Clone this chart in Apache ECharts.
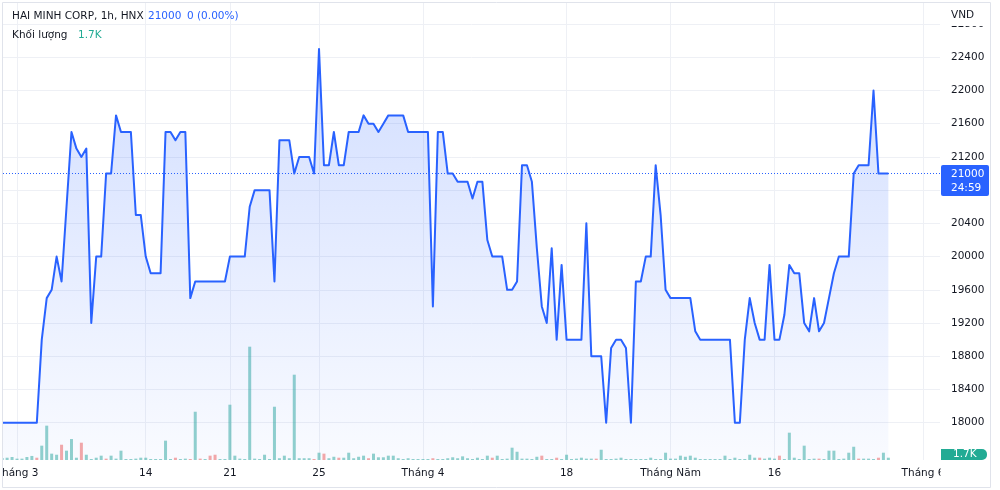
<!DOCTYPE html>
<html><head><meta charset="utf-8">
<script src="https://cdn.jsdelivr.net/npm/echarts@6/dist/echarts.min.js"></script>
<style>html,body{margin:0;padding:0;background:#fff}#c{width:1000px;height:490px}</style>
</head><body><div id="c"></div>
<script>
// ---------- DATA ----------
const symbolTitle = 'HAI MINH CORP, 1h, HNX';
const lastPriceText = '21000';
const changeText = '0 (0.00%)';
const volumeTitle = 'Khối lượng';
const lastVolumeText = '1.7K';
const countdownText = '24:59';
const currencyText = 'VND';
const lastPrice = 21000;

// bar index of the first value (bars are hourly, indexed by position on the time scale)
const firstIndex = -7;
const prices = [
  18000,18000,18000,18000,18000,18000,18000,18000,
  19000,19500,19600,20000,19700,20600,21500,21300,21200,21300,
  19200,20000,20000,21000,21000,21700,21500,21500,21500,20500,
  20500,20000,19800,19800,19800,21500,21500,21400,21500,21500,
  19500,19700,19700,19700,19700,19700,19700,19700,20000,20000,
  20000,20000,20600,20800,20800,20800,20800,19700,21400,21400,
  21400,21000,21200,21200,21200,21000,22500,21100,21100,21500,
  21100,21100,21500,21500,21500,21700,21600,21600,21500,21600,
  21700,21700,21700,21700,21500,21500,21500,21500,21500,19400,
  21500,21500,21000,21000,20900,20900,20900,20700,20900,20900,
  20200,20000,20000,20000,19600,19600,19700,21100,21100,20900,
  20100,19400,19200,20100,19000,19900,19000,19000,19000,19000,
  20400,18800,18800,18800,18000,18900,19000,19000,18900,18000,
  19700,19700,20000,20000,21100,20500,19600,19500,19500,19500,
  19500,19500,19100,19000,19000,19000,19000,19000,19000,19000,
  18000,18000,19000,19500,19200,19000,19000,19900,19000,19000,
  19300,19900,19800,19800,19200,19100,19500,19100,19200,19500,
  19800,20000,20000,20000,21000,21100,21100,21100,22000,21000,
  21000,21000
];
// volume in thousands of shares
const volumesK = [
  1.5,1.7,2.2,1.0,1.0,2.2,3.0,1.7,
  10.6,25.4,4.7,3.9,11.3,6.9,15.5,1.7,12.8,3.9,
  0.2,1.7,3.2,1.0,3.2,1.0,6.9,0.2,0.2,1.0,
  1.7,1.7,0.2,0.2,0.2,14.3,0.2,1.7,0.2,1.0,
  0.2,35.7,1.0,0.2,3.2,3.9,0.2,0.2,40.9,3.2,
  1.0,0.5,83.8,1.0,0.5,3.9,0.5,39.4,1.3,3.2,
  1.3,63.1,1.3,1.3,1.3,0.5,5.4,4.7,1.3,2.4,
  1.7,1.7,5.4,1.3,2.4,3.2,1.3,4.7,2.0,2.0,
  3.2,3.2,1.3,0.5,1.3,0.5,0.5,0.5,0.5,1.3,
  0.5,0.5,1.3,2.0,1.3,2.7,1.3,0.7,1.7,0.2,
  3.2,1.7,3.2,0.2,1.0,9.1,6.1,1.0,1.0,0.2,
  2.4,3.2,0.2,0.2,1.7,0.2,3.9,0.2,1.0,1.7,
  1.0,1.0,1.0,7.6,0.2,0.2,1.0,1.7,0.2,0.2,
  0.2,0.2,0.2,1.7,0.2,0.2,5.4,1.0,1.0,3.2,
  2.4,3.2,1.7,0.2,0.7,0.7,0.7,0.7,3.2,0.2,
  1.7,0.7,0.7,3.9,1.7,1.7,1.0,1.7,1.0,3.2,
  0.2,20.2,1.7,0.2,10.6,0.2,1.0,1.0,0.2,6.9,
  6.9,0.2,1.0,5.4,9.8,1.0,1.0,1.0,0.2,1.7,
  5.4,1.7
];
// bar indices whose volume bar is red (down)
const downBars = [0,5,9,14,28,31,33,35,36,56,58,61,67,80,92,102,105,113,146,150,158,166,170];

const priceTicks = [18000,18400,18800,19200,19600,20000,20400,20800,21200,21600,22000,22400,22800];
const timeTickIndex = [-4,22,39,57,78,107,128,149,179];
const timeTickLabels = ['Tháng 3','14','21','25','Tháng 4','18','Tháng Năm','16','Tháng 6'];

// ---------- CHART ----------
const FONT = 'DejaVu Sans';
const TXT = '#131722';
const BLUE = '#2962FF';
const TEAL = '#22AB94';

const priceData = prices.map((v, k) => [firstIndex + k, v]);
const volData = volumesK.map((v, k) => {
  const idx = firstIndex + k;
  return { value: [idx, v], itemStyle: { color: downBars.includes(idx) ? 'rgba(239,83,80,0.5)' : 'rgba(38,166,154,0.5)' } };
});

const chart = echarts.init(document.getElementById('c'), null, { renderer: 'canvas' });

const txt = (text, x, y, fill, extra) => Object.assign({
  type: 'text', z: 110,
  style: { text, x, y, fill, fontFamily: FONT, fontSize: 10.5, verticalAlign: 'middle', align: 'left' }
}, extra || {});

chart.setOption({
  animation: false,
  backgroundColor: '#ffffff',
  grid: { left: 3, top: 3, width: 937, height: 457, containLabel: false, outerBoundsMode: 'none' },
  xAxis: {
    type: 'value', min: -6.83, max: 182.43,
    axisLine: { show: false },
    axisTick: { show: false, customValues: timeTickIndex },
    splitLine: { show: true, lineStyle: { color: '#eef0f5', width: 1 } },
    axisLabel: {
      customValues: timeTickIndex,
      formatter: v => { const k = timeTickIndex.indexOf(v); return k >= 0 ? timeTickLabels[k] : ''; },
      color: TXT, fontFamily: FONT, fontSize: 10.5, margin: 8, hideOverlap: false
    }
  },
  yAxis: [
    {
      type: 'value', position: 'right', min: 17551, max: 23053,
      axisLine: { show: false },
      axisTick: { show: false, customValues: priceTicks },
      splitLine: { show: true, lineStyle: { color: '#eef0f5', width: 1 } },
      axisLabel: { customValues: priceTicks, formatter: v => String(v), color: TXT, fontFamily: FONT, fontSize: 10.5, margin: 11, hideOverlap: false }
    },
    { type: 'value', min: 0, max: 338, show: false, splitLine: { show: false } }
  ],
  series: [
    {
      type: 'bar', data: volData, xAxisIndex: 0, yAxisIndex: 1,
      barWidth: 3, barMinHeight: 1, silent: true, z: 1
    },
    {
      type: 'line', data: priceData, xAxisIndex: 0, yAxisIndex: 0,
      showSymbol: false, symbol: 'none', clip: true, z: 3, silent: true,
      lineStyle: { color: BLUE, width: 2, join: 'round' },
      itemStyle: { color: BLUE },
      areaStyle: {
        origin: 'start',
        color: new echarts.graphic.LinearGradient(0, 0, 0, 1, [
          { offset: 0, color: 'rgba(41,98,255,0.30)' },
          { offset: 1, color: 'rgba(41,98,255,0.04)' }
        ])
      },
      markLine: {
        silent: true, symbol: 'none', animation: false,
        label: { show: false },
        lineStyle: { color: BLUE, type: [1, 2], width: 1 },
        data: [{ yAxis: lastPrice }]
      }
    }
  ],
  graphic: [
    // left clip + outer frame
    { type: 'rect', z: 100, shape: { x: 0, y: 0, width: 2.5, height: 490 }, style: { fill: '#ffffff' } },
    { type: 'rect', z: 100, shape: { x: 940.5, y: 461, width: 52, height: 29 }, style: { fill: '#ffffff' } },
    { type: 'rect', z: 100, shape: { x: 941, y: 3, width: 49, height: 23 }, style: { fill: '#ffffff' } },
    { type: 'rect', z: 101, shape: { x: 2.5, y: 2.5, width: 988, height: 485 }, style: { fill: 'none', stroke: '#e0e3eb', lineWidth: 1 } },
    txt(currencyText, 951, 15, TXT),
    // last price box
    { type: 'rect', z: 105, shape: { x: 941, y: 165, width: 48, height: 31, r: 2 }, style: { fill: BLUE } },
    txt(lastPriceText, 951, 174, '#ffffff'),
    txt(countdownText, 951, 188, '#ffffff'),
    // last volume box
    { type: 'rect', z: 105, shape: { x: 941, y: 449, width: 46, height: 11, r: [0, 5, 5, 0] }, style: { fill: TEAL } },
    txt(lastVolumeText, 953, 454.5, '#ffffff'),
    // legend
    txt(symbolTitle, 12, 16, TXT),
    txt(lastPriceText, 148, 16, BLUE),
    txt(changeText, 187, 16, BLUE),
    txt(volumeTitle, 12, 35, TXT),
    txt(lastVolumeText, 78, 35, TEAL)
  ]
});
</script>
</body></html>
